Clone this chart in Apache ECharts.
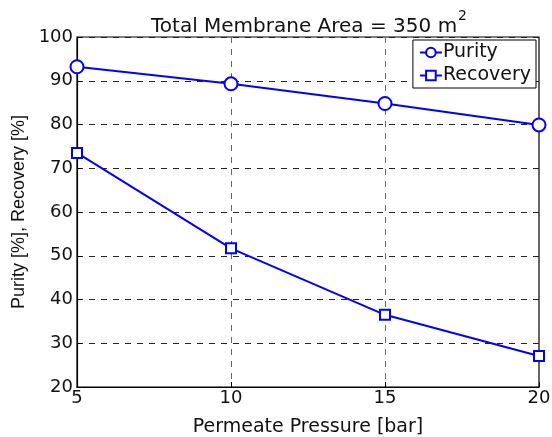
<!DOCTYPE html>
<html><head><meta charset="utf-8">
<script src="https://cdn.jsdelivr.net/npm/echarts@6/dist/echarts.min.js"></script>
<style>html,body{margin:0;padding:0;background:#fff}#c{width:552px;height:437px}</style>
</head><body><div id="c"></div>
<script>
const pressure = [5, 10, 15, 20];
const purity = [93.2, 89.3, 84.8, 79.9];
const recovery = [73.5, 51.7, 36.5, 27.1];
const xTicks = [5, 10, 15, 20];
const yTicks = [20, 30, 40, 50, 60, 70, 80, 90, 100];

const font = 'DejaVu Sans';
const chart = echarts.init(document.getElementById('c'));
chart.setOption({
  animation: false,
  backgroundColor: '#fff',
  title: {
    text: '{a|Total Membrane Area = 350 m}{s|2}',
    left: 304, top: 4, textAlign: 'center',
    textStyle: {
      fontWeight: 'normal',
      rich: {
        a: {fontFamily: font, fontSize: 20, color: '#111', fontWeight: 'normal', verticalAlign: 'bottom', lineHeight: 28},
        s: {fontFamily: font, fontSize: 14, color: '#111', fontWeight: 'normal', verticalAlign: 'top', lineHeight: 24, padding: [0,0,2,1]}
      }
    }
  },
  grid: {left: 77, right: 13, top: 37, bottom: 50, show: true, borderColor: '#000', borderWidth: 1.2, backgroundColor: 'transparent', outerBoundsMode: 'none', containLabel: false},
  legend: {
    right: 16, top: 40, orient: 'vertical',
    data: ['Purity', 'Recovery'],
    itemWidth: 22, itemHeight: 12, itemGap: 4,
    backgroundColor: '#fff', borderColor: '#000', borderWidth: 1, borderRadius: 0,
    padding: [3, 5, 3, 6],
    textStyle: {fontFamily: font, fontSize: 19, color: '#111', padding: [0,0,0,-4]}
  },
  xAxis: {
    type: 'value', min: xTicks[0], max: xTicks[xTicks.length-1], interval: 5,
    name: 'Permeate Pressure [bar]', nameLocation: 'middle', nameGap: 31,
    nameTextStyle: {fontFamily: font, fontSize: 19, color: '#111'},
    axisLine: {show: true, lineStyle: {color: '#000', width: 1.2}},
    axisTick: {show: true, inside: true, length: 5, lineStyle: {color: '#000'}},
    axisLabel: {fontFamily: font, fontSize: 18, color: '#111', margin: 2},
    splitLine: {show: true, lineStyle: {color: '#666', type: [6, 6], width: 1}}
  },
  yAxis: {
    type: 'value', min: yTicks[0], max: yTicks[yTicks.length-1], interval: 10,
    name: 'Purity [%], Recovery [%]', nameLocation: 'middle', nameGap: 46,
    nameTextStyle: {fontFamily: 'Liberation Sans', fontSize: 18, color: '#111'},
    axisLine: {show: true, lineStyle: {color: '#000', width: 1.2}},
    axisTick: {show: true, inside: true, length: 5, lineStyle: {color: '#000'}},
    axisLabel: {fontFamily: font, fontSize: 18, color: '#111', margin: 4},
    splitLine: {show: true, lineStyle: {color: '#222', type: [6, 6], width: 1}}
  },
  series: [
    {
      name: 'Purity', type: 'line',
      data: pressure.map((p, i) => [p, purity[i]]),
      symbol: 'emptyCircle', symbolSize: 13,
      lineStyle: {color: '#0000ff', width: 2},
      itemStyle: {color: '#0000ff', borderWidth: 2},
      z: 5
    },
    {
      name: 'Recovery', type: 'line',
      data: pressure.map((p, i) => [p, recovery[i]]),
      symbol: 'rect', symbolSize: 10,
      lineStyle: {color: '#0000ff', width: 2},
      itemStyle: {color: '#fff', borderColor: '#0000ff', borderWidth: 2},
      z: 5
    }
  ]
});
</script>
</body></html>
